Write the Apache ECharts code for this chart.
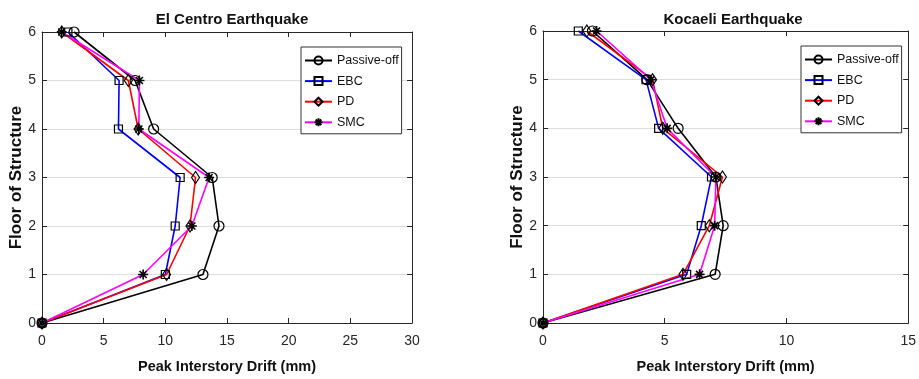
<!DOCTYPE html>
<html><head><meta charset="utf-8">
<script src="https://cdn.jsdelivr.net/npm/echarts@6/dist/echarts.min.js"></script>
<style>html,body{margin:0;padding:0;background:#fff}#c{width:919px;height:379px}</style>
</head><body><div id="c"></div>
<script>
// ---- data ----
const floors = [0, 1, 2, 3, 4, 5, 6];
const seriesNames = ['Passive-off', 'EBC', 'PD', 'SMC'];
const elCentroPassive = [0, 13.05, 14.35, 13.8, 9.05, 7.55, 2.6];
const elCentroEBC     = [0, 10.0, 10.8, 11.2, 6.2, 6.25, 2.1];
const elCentroPD      = [0, 10.1, 12.0, 12.45, 7.8, 7.0, 1.6];
const elCentroSMC     = [0, 8.2, 12.15, 13.55, 7.85, 7.9, 1.6];
const kocaeliPassive  = [0, 7.07, 7.4, 7.1, 5.55, 4.27, 2.03];
const kocaeliEBC      = [0, 5.9, 6.5, 6.92, 4.75, 4.23, 1.45];
const kocaeliPD       = [0, 5.75, 6.83, 7.37, 4.92, 4.5, 1.8];
const kocaeliSMC      = [0, 6.43, 7.05, 7.1, 5.1, 4.43, 2.2];
const titles = ['El Centro Earthquake', 'Kocaeli Earthquake'];
const xName = 'Peak Interstory Drift (mm)';
const yName = 'Floor of Structure';
const xMaxLeft = 30, xMaxRight = 15;

// ---- styles ----
const FONT = '"Liberation Sans", Arial, Helvetica, sans-serif';
const AX = '#262626';
const colors = ['#000000', '#0000ff', '#ff0000', '#ff00ff'];
const starPath = 'path://M5 0L5 10M0 5L10 5M1.5 1.5L8.5 8.5M8.5 1.5L1.5 8.5';
const symbols = ['circle', 'rect', 'diamond', starPath];
const symbolSizes = [10, 8, [8, 12], 10];

function mkSeries(name, idx, vals, g) {
  return {
    name: name, type: 'line', xAxisIndex: g * 2, yAxisIndex: g * 2,
    data: floors.map((f, i) => [vals[i], f]),
    symbol: symbols[idx], symbolSize: symbolSizes[idx], showAllSymbol: true,
    clip: false,
    lineStyle: { color: colors[idx], width: 1.6 },
    itemStyle: { color: 'rgba(0,0,0,0)', borderColor: '#000', borderWidth: idx === 3 ? 1.6 : 1.2 },
    emphasis: { disabled: true },
    animation: false
  };
}

function xAx(g, max, top) {
  return {
    gridIndex: g, type: 'value', min: 0, max: max, interval: 5,
    position: top ? 'top' : 'bottom',
    axisLine: { show: true, onZero: false, lineStyle: { color: AX, width: 1 } },
    axisTick: { show: true, inside: true, length: 5, lineStyle: { color: AX } },
    axisLabel: { show: !top, margin: 11, color: AX, fontSize: 14, fontFamily: FONT },
    splitLine: { show: false },
    name: top ? '' : xName, nameLocation: 'middle', nameGap: 36,
    nameTextStyle: { fontWeight: 'bold', fontSize: 14.5, color: '#111', fontFamily: FONT }
  };
}
function yAx(g, right) {
  return {
    gridIndex: g, type: 'value', min: 0, max: 6, interval: 1,
    position: right ? 'right' : 'left',
    axisLine: { show: true, onZero: false, lineStyle: { color: AX, width: 1 } },
    axisTick: { show: true, inside: true, length: 5, lineStyle: { color: AX } },
    axisLabel: { show: !right, margin: 6, color: AX, fontSize: 14, fontFamily: FONT },
    splitLine: { show: !right, lineStyle: { color: '#dddddd', width: 1 } },
    name: right ? '' : yName, nameLocation: 'middle', nameGap: 14, nameRotate: 90,
    nameTextStyle: { fontWeight: 'bold', fontSize: 17, color: '#111', fontFamily: FONT }
  };
}
function legend(left, top) {
  return {
    orient: 'vertical', left: left, top: top, selectedMode: false,
    itemWidth: 27, itemHeight: 10, itemGap: 7.6,
    padding: [7, 3, 5, 3],
    borderColor: '#333', borderWidth: 1, backgroundColor: '#fff',
    textStyle: { fontSize: 12.5, color: '#111', fontFamily: FONT },
    data: seriesNames
  };
}

const chart = echarts.init(document.getElementById('c'), null, { renderer: 'canvas' });
chart.setOption({
  backgroundColor: '#fff',
  animation: false,
  title: [
    { text: titles[0], left: 227, top: 7, textAlign: 'center',
      textStyle: { fontSize: 15, fontWeight: 'bold', color: '#111', fontFamily: FONT } },
    { text: titles[1], left: 728, top: 7, textAlign: 'center',
      textStyle: { fontSize: 15, fontWeight: 'bold', color: '#111', fontFamily: FONT } }
  ],
  grid: [
    { left: 42, top: 32, width: 370, height: 292 },
    { left: 543, top: 31, width: 370, height: 294 }
  ],
  legend: [legend(301, 47), legend(801, 46)],
  xAxis: [xAx(0, xMaxLeft, false), xAx(0, xMaxLeft, true), xAx(1, xMaxRight, false), xAx(1, xMaxRight, true)],
  yAxis: [yAx(0, false), yAx(0, true), yAx(1, false), yAx(1, true)],
  series: [
    mkSeries(seriesNames[0], 0, elCentroPassive, 0),
    mkSeries(seriesNames[1], 1, elCentroEBC, 0),
    mkSeries(seriesNames[2], 2, elCentroPD, 0),
    mkSeries(seriesNames[3], 3, elCentroSMC, 0),
    mkSeries(seriesNames[0], 0, kocaeliPassive, 1),
    mkSeries(seriesNames[1], 1, kocaeliEBC, 1),
    mkSeries(seriesNames[2], 2, kocaeliPD, 1),
    mkSeries(seriesNames[3], 3, kocaeliSMC, 1)
  ]
});
</script></body></html>
